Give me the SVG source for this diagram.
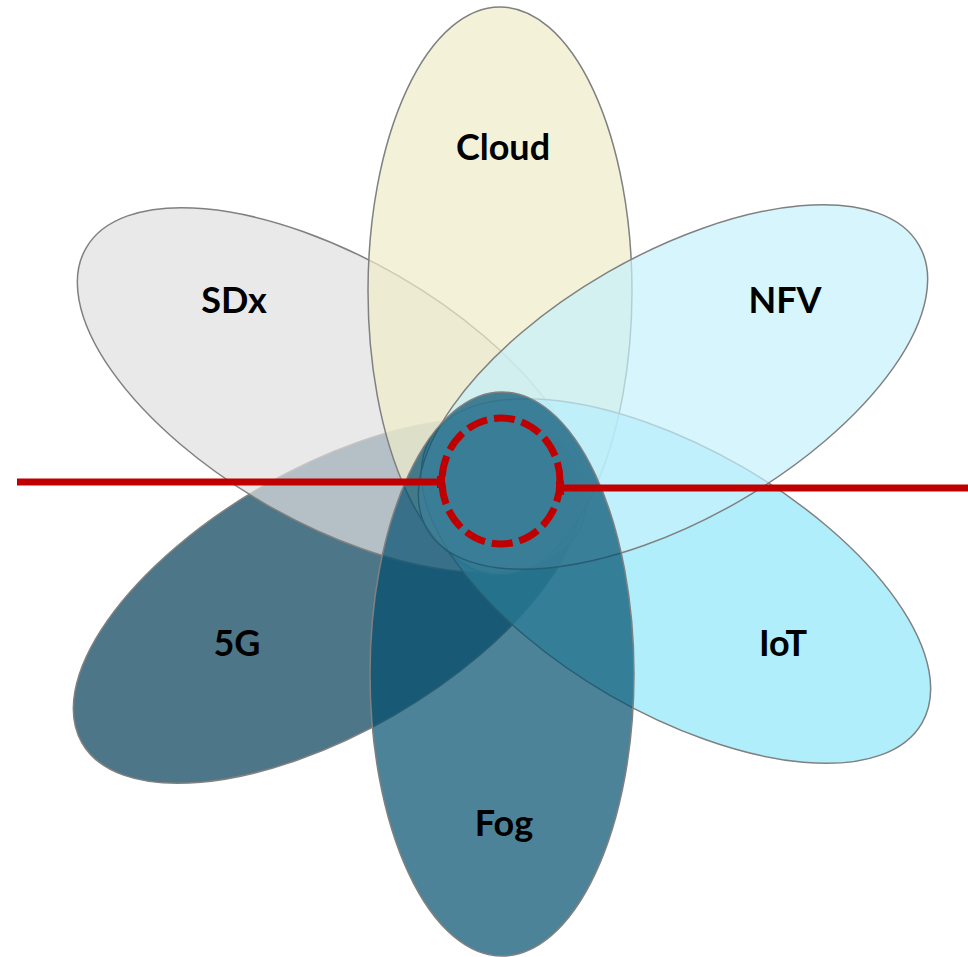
<svg xmlns="http://www.w3.org/2000/svg" width="968" height="957" viewBox="0 0 968 957">
<defs>
<style>
.petal{stroke:#808080;stroke-width:1.5;fill-opacity:0.7}
.lbl{font-family:Lato,"Open Sans","Liberation Sans",sans-serif;font-weight:bold;font-size:36px;fill:#000;text-anchor:middle}
.red{stroke:#C00000;stroke-width:7;fill:none}
</style>
<marker id="tee" viewBox="0 0 2 14" refX="1" refY="7" markerWidth="2" markerHeight="14" markerUnits="userSpaceOnUse" orient="auto">
<rect x="0" y="0" width="7" height="14" fill="#C00000"/>
</marker>
</defs>
<rect width="968" height="957" fill="#fff"/>
<g id="n-5g">
<ellipse class="petal" cx="328" cy="601" rx="284" ry="132" transform="rotate(-30 328 601)" fill="#023D55"/>
<text class="lbl" x="237" y="656">5G</text>
</g>
<g id="n-sdx">
<ellipse class="petal" cx="332" cy="390" rx="284" ry="132" transform="rotate(30 332 390)" fill="#E0E0E0"/>
<text class="lbl" x="234" y="313">SDx</text>
</g>
<g id="n-cloud">
<ellipse class="petal" cx="500" cy="291" rx="132" ry="284" fill="#EEECC9"/>
<text class="lbl" x="503" y="160">Cloud</text>
</g>
<g id="n-iot">
<ellipse class="petal" cx="676" cy="581" rx="284" ry="132" transform="rotate(30 676 581)" fill="#8EE7FB"/>
<text class="lbl" x="783" y="656">IoT</text>
</g>
<g id="n-nfv">
<ellipse class="petal" cx="673" cy="387" rx="284" ry="132" transform="rotate(-30 673 387)" fill="#C6F1FB"/>
<text class="lbl" x="785" y="313">NFV</text>
</g>
<g id="n-fog">
<ellipse class="petal" cx="502" cy="674" rx="132" ry="282" fill="#024E6D"/>
<text class="lbl" x="504" y="836">Fog</text>
</g>
<g id="connectors">
<line class="red" x1="17" y1="482" x2="441" y2="482"/>
<line class="red" x1="968" y1="488" x2="560" y2="488"/>
<rect x="437" y="476" width="8" height="12" fill="#C00000"/>
<rect x="556" y="481" width="8" height="14" fill="#C00000"/>
</g>
<g id="core">
<ellipse cx="501" cy="481" rx="59" ry="63" fill="none" stroke="#C00000" stroke-width="7" stroke-dasharray="21 7"/>
</g>
</svg>
